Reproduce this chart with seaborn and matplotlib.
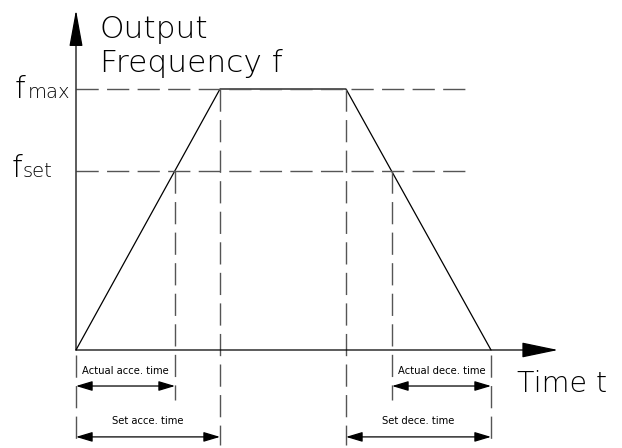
import matplotlib
matplotlib.use("Agg")
import matplotlib.pyplot as plt
import seaborn as sns
import pandas as pd

# ---- data (time in arbitrary units, frequency in % of f_max) ----
t_profile = [0.0, 14.4, 27.0, 41.5]          # start, reach fmax, decel start, stop
f_profile = [0.0, 100.0, 100.0, 0.0]
f_max = 100.0
f_set = 68.6
t_actual_acc_end = 9.9      # where ramp up crosses f_set
t_actual_dec_start = 31.6   # where ramp down crosses f_set

label_y = "Output\nFrequency f"
label_x = "Time t"
dim_labels = ["Actual acce. time", "Set acce. time", "Actual dece. time", "Set dece. time"]

sns.set_theme(style="white")
plt.rcParams["font.family"] = ["DejaVu Sans"]

fig = plt.figure(figsize=(6.22, 4.48), dpi=100)
ax = fig.add_axes([0, 0, 1, 1])
ax.set_xlim(-7.6, 54.6)
ax.set_ylim(-37.55, 134.1)
ax.axis("off")

df = pd.DataFrame({"t": t_profile, "f": f_profile})
sns.lineplot(data=df, x="t", y="f", sort=False, color="black", lw=0.9, ax=ax)

dash = (0, (16, 6))
dcol = "#555555"
dlw = 1.0
t_hend = 38.9
y_bottom = -36.4
y_short = -19.2

# horizontal reference lines
ax.plot([0, t_hend], [f_max, f_max], color=dcol, lw=dlw, ls=dash)
ax.plot([0, t_hend], [f_set, f_set], color=dcol, lw=dlw, ls=dash)
# vertical reference lines
ax.plot([t_profile[1]] * 2, [f_max, y_bottom], color=dcol, lw=dlw, ls=dash)
ax.plot([t_profile[2]] * 2, [f_max, y_bottom], color=dcol, lw=dlw, ls=dash)
ax.plot([t_actual_acc_end] * 2, [f_set, y_short], color=dcol, lw=dlw, ls=dash)
ax.plot([t_actual_dec_start] * 2, [f_set, y_short], color=dcol, lw=dlw, ls=dash)
ax.plot([t_profile[0]] * 2, [-2, y_bottom], color=dcol, lw=dlw, ls=dash)
ax.plot([t_profile[3]] * 2, [-2, y_bottom], color=dcol, lw=dlw, ls=dash)

# axes with arrows
ax.annotate("", xy=(0, 130.3), xytext=(0, 0),
            arrowprops=dict(arrowstyle="-|>,head_length=2.3,head_width=0.42",
                            mutation_scale=10, lw=0.9, color="black",
                            shrinkA=0, shrinkB=0))
ax.annotate("", xy=(48.2, 0), xytext=(0, 0),
            arrowprops=dict(arrowstyle="-|>,head_length=2.3,head_width=0.48",
                            mutation_scale=10, lw=0.9, color="black",
                            shrinkA=0, shrinkB=0))

# dimension arrows
dims = [
    (t_profile[0], t_actual_acc_end, -13.8, -9.2, dim_labels[0]),
    (t_profile[0], t_profile[1], -33.3, -28.4, dim_labels[1]),
    (t_actual_dec_start, t_profile[3], -13.8, -9.2, dim_labels[2]),
    (t_profile[2], t_profile[3], -33.3, -28.4, dim_labels[3]),
]
for t0, t1, ya, yt, lab in dims:
    ax.annotate("", xy=(t1, ya), xytext=(t0, ya),
                arrowprops=dict(arrowstyle="<|-|>,head_length=1.0,head_width=0.3",
                                mutation_scale=10, lw=0.9, color="black",
                                shrinkA=0, shrinkB=0))
    ax.text((t0 + t1) / 2, yt, lab, ha="center", va="baseline", fontsize=7.2,
            color="black")

# labels
tw = "light"
ax.text(2.4, 119.5, "Output", fontsize=22.5, va="baseline", ha="left",
        fontweight=tw, color="black")
ax.text(2.4, 106.5, "Frequency f", fontsize=22.5, va="baseline", ha="left",
        fontweight=tw, color="black")
ax.text(44.1, -16.1, label_x, fontsize=20.5, va="baseline", ha="left",
        fontweight=tw, color="black")
ax.text(-6.1, 96.6, "f", fontsize=22, va="baseline", ha="left",
        fontweight=tw, color="black")
ax.text(-4.8, 96.6, "max", fontsize=14, va="baseline", ha="left",
        fontweight=tw, color="black")
ax.text(-6.4, 66.3, "f", fontsize=22, va="baseline", ha="left",
        fontweight=tw, color="black")
ax.text(-5.3, 66.3, "set", fontsize=14, va="baseline", ha="left",
        fontweight=tw, color="black")

fig.savefig("out.png", dpi=100, facecolor="white")
